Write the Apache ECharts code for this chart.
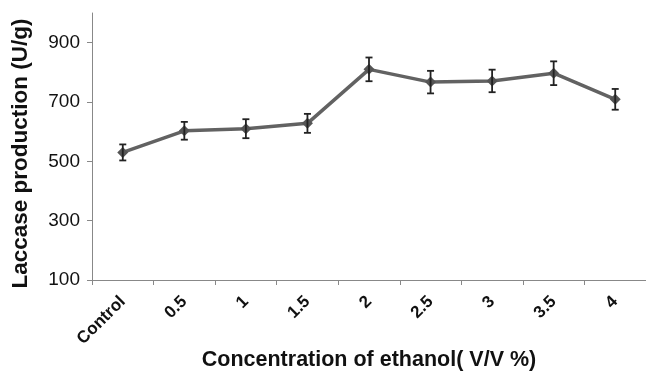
<!DOCTYPE html>
<html>
<head>
<meta charset="utf-8">
<script src="https://cdn.jsdelivr.net/npm/echarts@6/dist/echarts.min.js"></script>
<style>html,body{margin:0;padding:0;background:#fff}#c{width:646px;height:374px}</style>
</head>
<body>
<div id="c"></div>
<script>
const categories = ['Control', '0.5', '1', '1.5', '2', '2.5', '3', '3.5', '4'];
const values = [530, 603, 610, 628, 810, 767, 771, 797, 709];
const errors = [27, 30, 32, 32, 40, 38, 38, 40, 35];
const yTicks = [100, 300, 500, 700, 900];

const chart = echarts.init(document.getElementById('c'), null, {renderer: 'canvas'});
const errData = categories.map((c, i) => [i, values[i] - errors[i], values[i] + errors[i]]);
const FONT = 'Liberation Sans, Arial, sans-serif';
chart.setOption({
  animation: false,
  backgroundColor: '#fff',
  grid: {left: 92, right: 0, top: 13, bottom: 94, containLabel: false, outerBoundsMode: 'none'},
  xAxis: {
    type: 'category',
    data: categories,
    boundaryGap: true,
    name: 'Concentration of ethanol( V/V %)',
    nameLocation: 'middle',
    nameGap: 69,
    nameMoveOverlap: false,
    nameTextStyle: {fontFamily: FONT, fontWeight: 'bold', fontSize: 21.5, color: '#111'},
    axisLine: {lineStyle: {color: '#888', width: 1}},
    axisTick: {show: true, alignWithLabel: false, length: 5, lineStyle: {color: '#888'}},
    axisLabel: {rotate: 45, margin: 19, fontFamily: FONT, fontWeight: 'bold', fontSize: 17, color: '#111'},
    splitLine: {show: false}
  },
  yAxis: {
    type: 'value',
    min: 100,
    max: 1000,
    name: 'Laccase production (U/g)',
    nameLocation: 'middle',
    nameGap: 60,
    nameMoveOverlap: false,
    nameTextStyle: {fontFamily: FONT, fontWeight: 'bold', fontSize: 22.5, color: '#111', padding: [0, 14, 0, 0]},
    axisLine: {show: true, lineStyle: {color: '#888', width: 1}},
    axisTick: {show: true, length: 5, lineStyle: {color: '#888'}, customValues: yTicks},
    axisLabel: {customValues: yTicks, margin: 12, fontFamily: FONT, fontSize: 19, color: '#111'},
    splitLine: {show: false}
  },
  series: [
    {
      type: 'line',
      data: values,
      symbol: 'diamond',
      symbolSize: 11,
      lineStyle: {color: '#626262', width: 3.5},
      itemStyle: {color: '#555'},
      z: 2
    },
    {
      type: 'custom',
      data: errData,
      z: 3,
      renderItem: function (params, api) {
        const x = api.value(0);
        const lo = api.coord([x, api.value(1)]);
        const hi = api.coord([x, api.value(2)]);
        const w = 3.5;
        const style = {stroke: '#222', lineWidth: 1.8};
        return {
          type: 'group',
          children: [
            {type: 'line', shape: {x1: lo[0], y1: lo[1], x2: hi[0], y2: hi[1]}, style: style},
            {type: 'line', shape: {x1: lo[0] - w, y1: lo[1], x2: lo[0] + w, y2: lo[1]}, style: style},
            {type: 'line', shape: {x1: hi[0] - w, y1: hi[1], x2: hi[0] + w, y2: hi[1]}, style: style}
          ]
        };
      }
    }
  ]
});
</script>
</body>
</html>
